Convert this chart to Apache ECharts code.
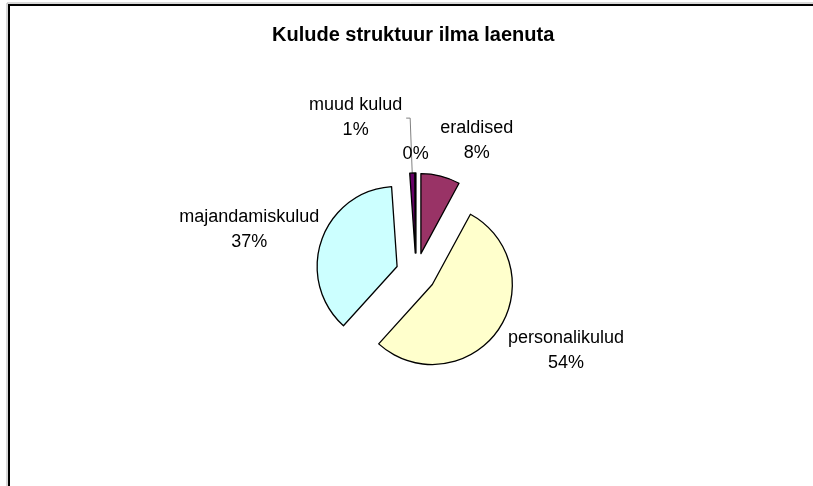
<!DOCTYPE html>
<html>
<head>
<meta charset="utf-8">
<script src="https://cdn.jsdelivr.net/npm/echarts@6/dist/echarts.min.js"></script>
<style>
  html, body { margin: 0; padding: 0; background: #fff; }
  #main { width: 813px; height: 486px; }
</style>
</head>
<body>
<div id="main"></div>
<script>
var chartTitle = 'Kulude struktuur ilma laenuta';
var categories = ['eraldised', 'personalikulud', 'majandamiskulud', 'muud kulud', ''];
var values = [7.9, 53.8, 37.2, 1.0, 0.1];
var colors = ['#993366', '#FFFFCC', '#CCFFFF', '#660066', '#FF8080'];

// label nudges (px) so they sit where Excel put them
var labelShift = [[-9, -21], [-7, 11], [17, -6], [1, -1], [18, -4]];

var myChart = echarts.init(document.getElementById('main'));

var pieData = categories.map(function (name, i) {
    var item = {
        name: name,
        value: values[i],
        selected: true,
        itemStyle: { color: colors[i] },
        labelLine: { show: false, length: 15, length2: 0 }
    };
    // muud kulud gets a leader line
    if (i == 3) {
        item.labelLine = { show: true, length: 55, length2: 4, lineStyle: { color: '#808080', width: 1 } };
    }
    return item;
});

var option = {
    animation: false,
    title: {
        text: chartTitle,
        left: 267,
        top: 20,
        padding: 5,
        textStyle: {
            fontFamily: 'Liberation Sans',
            fontSize: 20,
            fontWeight: 'bold',
            color: '#000'
        }
    },
    graphic: [
        {
            type: 'rect',
            silent: true,
            shape: { x: 7, y: 3, width: 900, height: 600 },
            style: { fill: 'none', stroke: '#b0b0b0', lineWidth: 1 }
        },
        {
            type: 'rect',
            silent: true,
            shape: { x: 9, y: 5, width: 900, height: 600 },
            style: { fill: 'none', stroke: '#000', lineWidth: 2 }
        }
    ],
    series: [{
        type: 'pie',
        center: [416, 273],
        radius: 80,
        startAngle: 90,
        selectedMode: 'multiple',
        selectedOffset: 20,
        avoidLabelOverlap: false,
        percentPrecision: 0,
        emphasis: { disabled: true },
        itemStyle: { borderColor: '#000', borderWidth: 1.3 },
        label: {
            position: 'outside',
            color: '#000',
            fontFamily: 'Liberation Sans',
            fontSize: 18,
            lineHeight: 25,
            formatter: function (p) {
                if (p.name) {
                    return '{n|' + p.name + '}\n{n|' + p.percent + '%}';
                }
                return '{n|' + p.percent + '%}';
            },
            rich: {
                n: { align: 'center', fontFamily: 'Liberation Sans', fontSize: 18, lineHeight: 25, color: '#000' }
            }
        },
        labelLayout: function (params) {
            var s = labelShift[params.dataIndex];
            return { dx: s[0], dy: s[1] };
        },
        data: pieData
    }]
};
myChart.setOption(option);
</script>
</body>
</html>
